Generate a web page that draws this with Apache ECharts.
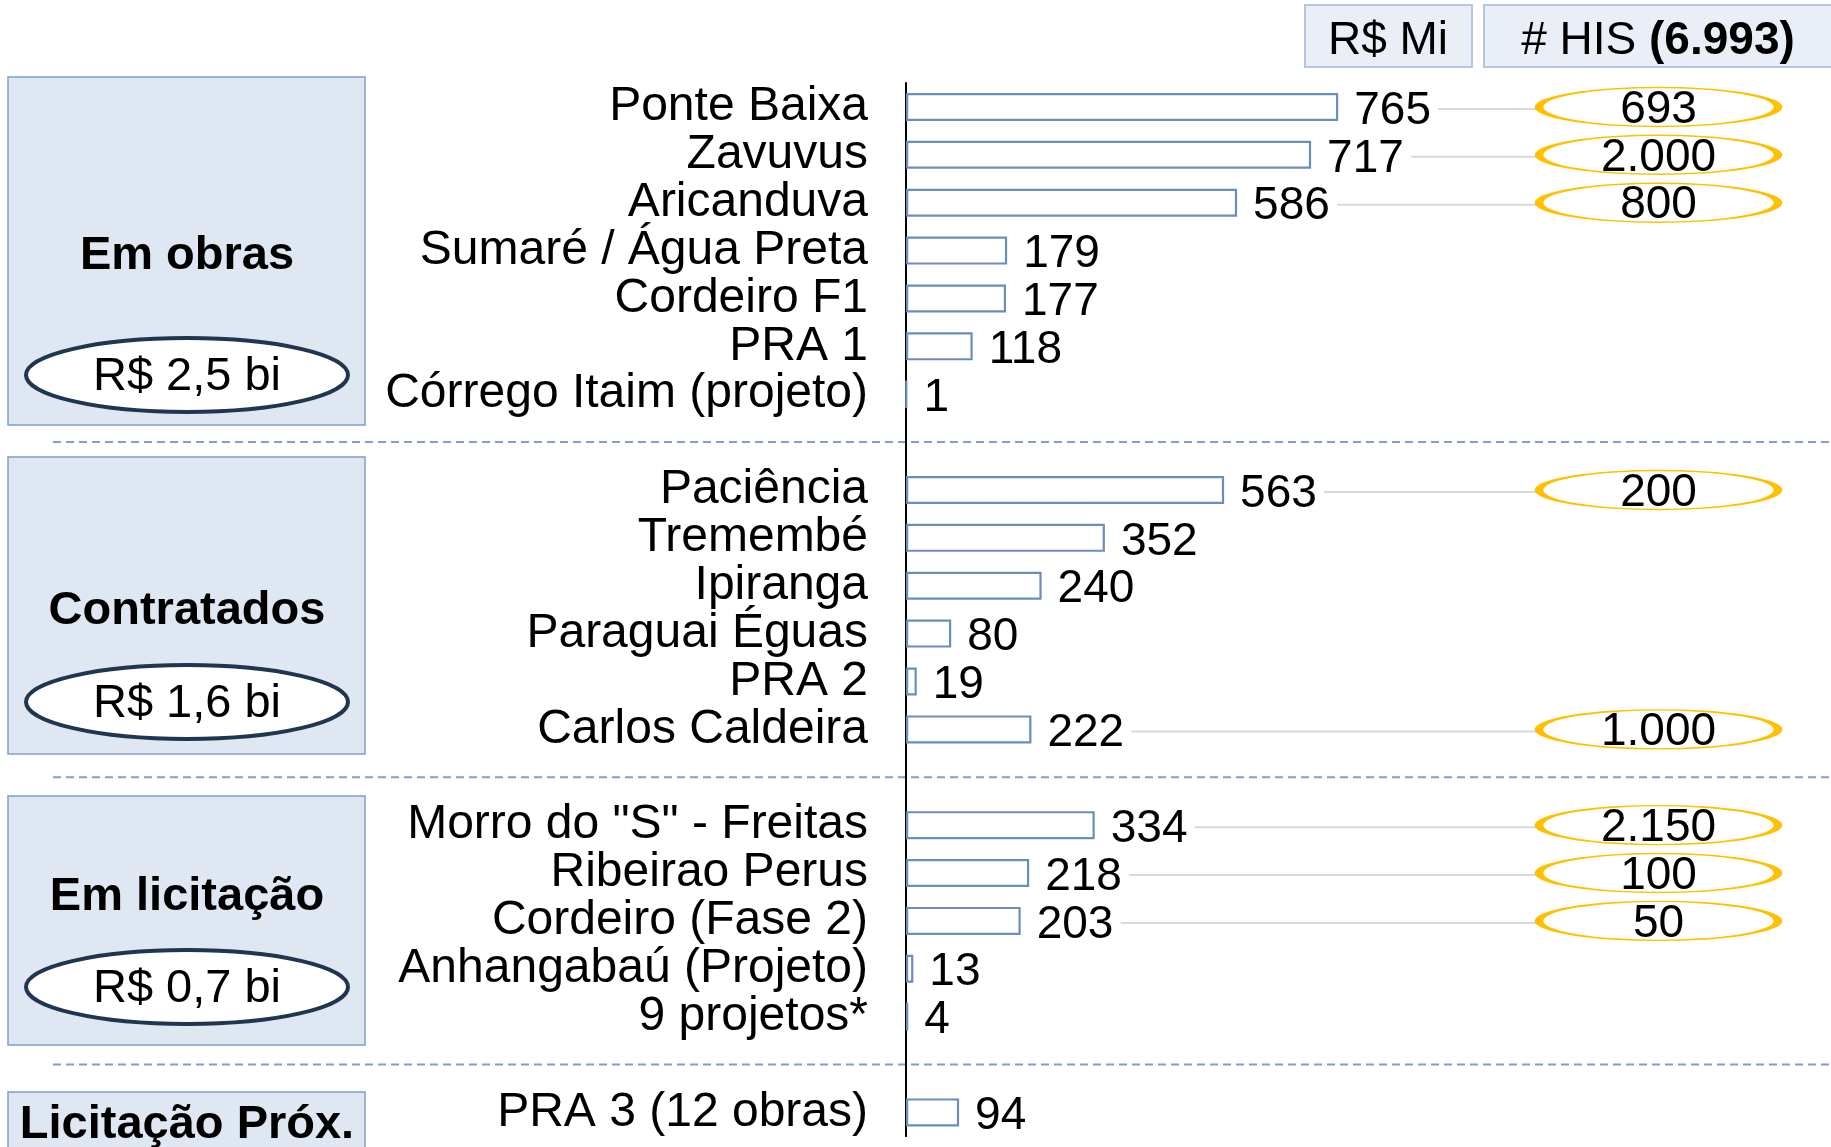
<!DOCTYPE html>
<html>
<head>
<meta charset="utf-8">
<style>
html, body { margin: 0; padding: 0; background: #fff; }
#chart { width: 1831px; height: 1147px; }
</style>
<script src="https://cdn.jsdelivr.net/npm/echarts@6.0.0/dist/echarts.min.js"></script>
</head>
<body>
<div id="chart"></div>
<script>
// project rows, blank entries are the gaps between groups
const projects = [
  'Ponte Baixa', 'Zavuvus', 'Aricanduva', 'Sumaré / Água Preta', 'Cordeiro F1', 'PRA 1', 'Córrego Itaim (projeto)',
  ' ',
  'Paciência', 'Tremembé', 'Ipiranga', 'Paraguai Éguas', 'PRA 2', 'Carlos Caldeira',
  '  ',
  'Morro do "S" - Freitas', 'Ribeirao Perus', 'Cordeiro (Fase 2)', 'Anhangabaú (Projeto)', '9 projetos*',
  '   ',
  'PRA 3 (12 obras)'
]
// R$ Mi
const rsMi = [765, 717, 586, 179, 177, 118, 1, null, 563, 352, 240, 80, 19, 222, null, 334, 218, 203, 13, 4, null, 94]
// # HIS
const his = [693, 2000, 800, null, null, null, null, null, 200, null, null, null, null, 1000, null, 2150, 100, 50, null, null, null, null]

const groups = ['Em obras', 'Contratados', 'Em licitação', 'Licitação Próx.']
const groupTotals = ['R$ 2,5 bi', 'R$ 1,6 bi', 'R$ 0,7 bi', '']

const FONT = '"Liberation Sans", Arial, sans-serif'
const GRID_LEFT = 906
const GRID_TOP = 83
const ROW_H = 47.88
const HIS_LEFT = 1539
const HIS_W = 239

const fmt = v => String(v).replace(/\B(?=(\d{3})+(?!\d))/g, '.')
const hisTotal = his.reduce((s, v) => s + (v || 0), 0)

const chart = echarts.init(document.getElementById('chart'))

const hisPoints = []
const links = []
his.forEach((v, i) => {
  if (v != null) {
    hisPoints.push([0, i, v])
    links.push([rsMi[i], i])
  }
})

// left group boxes (layout only)
const boxes = [
  { y: 77, h: 348, ty: 256, ey: 375 },
  { y: 457, h: 297, ty: 611, ey: 702 },
  { y: 796, h: 249, ty: 897, ey: 987 },
  { y: 1092, h: 90, ty: 1125, ey: null }
]

const graphic = []
boxes.forEach((b, i) => {
  graphic.push({
    type: 'rect', z: -10, silent: true,
    shape: { x: 8, y: b.y, width: 357, height: b.h },
    style: { fill: '#dfe7f2', stroke: '#809fcc', lineWidth: 1.5 }
  })
  graphic.push({
    type: 'text', silent: true,
    style: { text: groups[i], x: 187, y: b.ty, align: 'center', verticalAlign: 'middle',
      fontSize: 47, fontWeight: 'bold', fontFamily: FONT, fill: '#000' }
  })
  if (b.ey != null) {
    graphic.push({
      type: 'ellipse', silent: true,
      shape: { cx: 187, cy: b.ey, rx: 161, ry: 37 },
      style: { fill: '#fff', stroke: '#1f3550', lineWidth: 4 }
    })
    graphic.push({
      type: 'text', silent: true,
      style: { text: groupTotals[i], x: 187, y: b.ey + 2, align: 'center', verticalAlign: 'middle',
        fontSize: 47, fontFamily: FONT, fill: '#000' }
    })
  }
})

// header boxes
graphic.push({
  type: 'rect', silent: true,
  shape: { x: 1305, y: 5, width: 167, height: 62 },
  style: { fill: '#e9eef7', stroke: '#b4c6e0', lineWidth: 2 }
})
graphic.push({
  type: 'text', silent: true,
  style: { text: 'R$ Mi', x: 1388, y: 41, align: 'center', verticalAlign: 'middle',
    fontSize: 46, fontFamily: FONT, fill: '#000' }
})
graphic.push({
  type: 'rect', silent: true,
  shape: { x: 1484, y: 5, width: 360, height: 62 },
  style: { fill: '#e9eef7', stroke: '#b4c6e0', lineWidth: 2 }
})
graphic.push({
  type: 'text', silent: true,
  style: {
    text: '{n|# HIS }{b|(' + fmt(hisTotal) + ')}', x: 1658, y: 41, align: 'center', verticalAlign: 'middle',
    rich: {
      n: { fontSize: 46, fontFamily: FONT, fill: '#000' },
      b: { fontSize: 46, fontFamily: FONT, fontWeight: 'bold', fill: '#000' }
    }
  }
})

const option = {
  animation: false,
  backgroundColor: '#fff',
  grid: [
    { left: GRID_LEFT, top: GRID_TOP, width: 565, height: ROW_H * projects.length },
    { left: HIS_LEFT, top: GRID_TOP, width: HIS_W, height: ROW_H * projects.length }
  ],
  xAxis: [
    { type: 'value', gridIndex: 0, min: 0, max: 1000, show: false },
    { type: 'category', gridIndex: 1, data: ['HIS'], show: false }
  ],
  yAxis: [
    {
      type: 'category', gridIndex: 0, data: projects, inverse: true,
      axisLine: { show: true, lineStyle: { color: '#000', width: 2 } },
      axisTick: { show: false },
      splitLine: { show: false },
      axisLabel: { interval: 0, fontSize: 48, color: '#000', fontFamily: FONT, margin: 38, padding: [9, 0, 0, 0] }
    },
    { type: 'category', gridIndex: 1, data: projects, inverse: true, show: false }
  ],
  series: [
    {
      type: 'custom', xAxisIndex: 0, yAxisIndex: 0, data: links, clip: false, silent: true, z: 1,
      renderItem: (params, api) => {
        const p = api.coord([api.value(0), api.value(1)])
        return {
          type: 'line',
          shape: { x1: p[0] + 100, y1: p[1] + 2, x2: HIS_LEFT, y2: p[1] + 2 },
          style: { stroke: '#d9d9d9', lineWidth: 2 }
        }
      }
    },
    {
      type: 'bar', xAxisIndex: 0, yAxisIndex: 0, data: rsMi, barWidth: 28, silent: true, z: 2,
      itemStyle: { color: '#fff', borderColor: '#6a8cbf', borderWidth: 2.2 },
      label: {
        show: true, position: 'right', distance: 16, fontSize: 46, color: '#000', fontFamily: FONT,
        offset: [0, 4],
        formatter: p => (p.value == null ? '' : p.value)
      }
    },
    {
      type: 'scatter', xAxisIndex: 1, yAxisIndex: 1, data: hisPoints, silent: true, z: 3,
      symbol: 'circle', symbolSize: [HIS_W, 39],
      itemStyle: { color: 'rgba(255,255,255,0)', borderColor: '#ffc000', borderWidth: 3.5, opacity: 1 },
      label: {
        show: true, position: 'inside', fontSize: 46, color: '#000', fontFamily: FONT,
        offset: [0, 3],
        formatter: p => fmt(p.value[2])
      }
    }
  ],
  graphic: graphic
}

chart.setOption(option)

// dashed separators on the blank rows
const seps = []
projects.forEach((name, i) => {
  if (name.trim() === '') {
    const y = chart.convertToPixel({ yAxisIndex: 0 }, i)
    seps.push({
      type: 'line', silent: true, z: -5,
      shape: { x1: 53, y1: y, x2: 1831, y2: y },
      style: { stroke: '#809fcf', lineWidth: 2, lineDash: [8, 5] }
    })
  }
})
chart.setOption({ graphic: graphic.concat(seps) })
</script>
</body>
</html>
